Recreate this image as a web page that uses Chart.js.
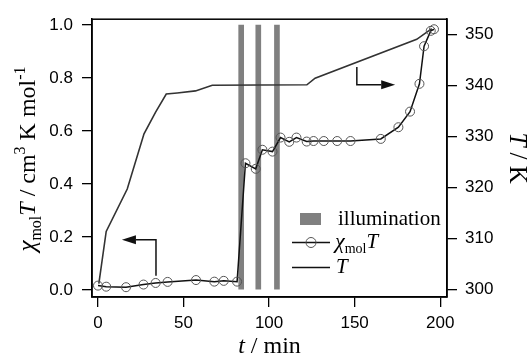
<!DOCTYPE html>
<html>
<head>
<meta charset="utf-8">
<script src="https://cdn.jsdelivr.net/npm/chart.js@4.4.1/dist/chart.umd.min.js"></script>
<style>
  html, body { margin: 0; padding: 0; background: #fff; }
  #wrap { width: 531px; height: 358px; }
</style>
</head>
<body>
<div id="wrap"><canvas id="chart" width="531" height="358"></canvas></div>
<script>
// data //
const illumTimes = [83.7, 93.7, 104.6];

const chiTimes = [0, 4.8, 16.4, 26.6, 33.7, 40.7, 57.3, 68.0, 73.5, 81.3,
  86.2, 92.2, 96.1, 102.0, 106.7, 111.8, 116.0, 122.0, 126.0, 132.0, 139.8, 147.6,
  165.3, 175.6, 182.4, 187.9, 190.6, 194.5, 196.4];
const chiValues = [0.016, 0.012, 0.010, 0.020, 0.026, 0.030, 0.037, 0.031, 0.034, 0.031,
  0.478, 0.457, 0.529, 0.522, 0.575, 0.559, 0.575, 0.560, 0.562, 0.562, 0.562, 0.562,
  0.570, 0.614, 0.673, 0.778, 0.920, 0.978, 0.984];

const tempTimes = [0.5, 4.8, 17.1, 26.9, 33.6, 39.9, 46.3, 57.0, 66.8, 122.1, 126.9, 186.3, 195.1];
const tempValues = [301.2, 311.4, 319.7, 330.5, 334.7, 338.3, 338.5, 338.9, 340.0, 340.1, 341.4, 349.0, 351.1];

// arrows: [t, value] corner points, last one is the tip
const leftArrow = [[33.9, 0.053], [33.9, 0.189], [14.0, 0.189]];
const rightArrow = [[151.3, 343.6], [151.3, 340.1], [173.7, 340.1]];

const SERIF = '"Liberation Serif", "DejaVu Serif", serif';
const SANS = '"Liberation Sans", Arial, sans-serif';

// draw text made of pieces (italic, sub, sup) //
function richWidth(ctx, parts) {
  let w = 0;
  parts.forEach(p => { ctx.font = p.font; w += ctx.measureText(p.text).width; });
  return w;
}
function drawRich(ctx, parts, x, y, angle, align) {
  ctx.save();
  ctx.translate(x, y);
  ctx.rotate(angle);
  let cx = align === 'center' ? -richWidth(ctx, parts) / 2 : 0;
  ctx.fillStyle = '#000';
  ctx.textBaseline = 'alphabetic';
  ctx.textAlign = 'left';
  parts.forEach(p => {
    ctx.font = p.font;
    ctx.fillText(p.text, cx, p.dy || 0);
    cx += ctx.measureText(p.text).width;
  });
  ctx.restore();
}

function drawArrow(ctx, pts, xs, ys) {
  const px = pts.map(p => [xs.getPixelForValue(p[0]), ys.getPixelForValue(p[1])]);
  ctx.save();
  ctx.strokeStyle = '#111';
  ctx.fillStyle = '#111';
  ctx.lineWidth = 1.5;
  const tip = px[px.length - 1];
  const prev = px[px.length - 2];
  const dir = Math.sign(tip[0] - prev[0]);
  const headLen = 14;
  ctx.beginPath();
  ctx.moveTo(px[0][0], px[0][1]);
  ctx.lineTo(px[1][0], px[1][1]);
  ctx.lineTo(tip[0] - dir * headLen, tip[1]);
  ctx.stroke();
  ctx.beginPath();
  ctx.moveTo(tip[0], tip[1]);
  ctx.lineTo(tip[0] - dir * headLen, tip[1] - 4.5);
  ctx.lineTo(tip[0] - dir * headLen, tip[1] + 4.5);
  ctx.closePath();
  ctx.fill();
  ctx.restore();
}

const decorations = {
  id: 'decorations',
  afterDatasetsDraw(chart) {
    const ctx = chart.ctx;
    const a = chart.chartArea;
    const s = chart.scales;

    // frame
    ctx.save();
    ctx.strokeStyle = '#000';
    ctx.lineWidth = 1.5;
    ctx.strokeRect(a.left, a.top, a.right - a.left, a.bottom - a.top);
    ctx.restore();

    drawArrow(ctx, leftArrow, s.x, s.y);
    drawArrow(ctx, rightArrow, s.x, s.y2);

    // legend
    ctx.save();
    ctx.fillStyle = '#808080';
    ctx.fillRect(300, 213, 21, 12);
    ctx.strokeStyle = '#111';
    ctx.lineWidth = 1.5;
    ctx.beginPath();
    ctx.moveTo(292, 242.5); ctx.lineTo(330, 242.5);
    ctx.moveTo(292, 267.5); ctx.lineTo(330, 267.5);
    ctx.stroke();
    ctx.strokeStyle = '#555';
    ctx.lineWidth = 1;
    ctx.beginPath();
    ctx.arc(311, 242.5, 5, 0, Math.PI * 2);
    ctx.stroke();
    ctx.restore();
    drawRich(ctx, [{ text: 'illumination', font: '21px ' + SERIF }], 338, 225, 0, 'left');
    drawRich(ctx, [
      { text: 'χ', font: 'italic 22px ' + SERIF },
      { text: 'mol', font: '14px ' + SERIF, dy: 5 },
      { text: 'T', font: 'italic 21px ' + SERIF }
    ], 335, 248, 0, 'left');
    drawRich(ctx, [{ text: 'T', font: 'italic 21px ' + SERIF }], 336, 273, 0, 'left');

    // axis titles
    drawRich(ctx, [
      { text: 'χ', font: 'italic 25px ' + SERIF },
      { text: 'mol', font: '16px ' + SERIF, dy: 6 },
      { text: 'T', font: 'italic 24px ' + SERIF },
      { text: ' / cm', font: '24px ' + SERIF },
      { text: '3', font: '16px ' + SERIF, dy: -10 },
      { text: ' K mol', font: '24px ' + SERIF },
      { text: '-1', font: '16px ' + SERIF, dy: -10 }
    ], 35, 159, -Math.PI / 2, 'center');

    drawRich(ctx, [
      { text: 't', font: 'italic 24px ' + SERIF },
      { text: ' / min', font: '24px ' + SERIF }
    ], (a.left + a.right) / 2, 353, 0, 'center');

    drawRich(ctx, [
      { text: 'T', font: 'italic 25px ' + SERIF },
      { text: ' / K', font: '25px ' + SERIF }
    ], 510, (a.top + a.bottom) / 2, Math.PI / 2, 'center');
  }
};

const tickFont = { family: SANS, size: 17 };
function axisGrid() {
  return { drawOnChartArea: false, drawTicks: true, tickLength: 10, color: '#000', lineWidth: 1.3, offset: false };
}

const ctx = document.getElementById('chart');
new Chart(ctx, {
  data: {
    datasets: [{
      type: 'bar',
      label: 'illumination',
      data: illumTimes.map(t => ({ x: t, y: [0, 1] })),
      backgroundColor: '#808080',
      barThickness: 5,
      yAxisID: 'y',
      order: 3
    }, {
      type: 'line',
      label: 'T',
      data: tempTimes.map((t, i) => ({ x: t, y: tempValues[i] })),
      borderColor: '#333',
      borderWidth: 1.6,
      pointRadius: 0,
      tension: 0,
      yAxisID: 'y2',
      order: 2
    }, {
      type: 'line',
      label: 'χmolT',
      data: chiTimes.map((t, i) => ({ x: t, y: chiValues[i] })),
      borderColor: '#111',
      borderWidth: 1.5,
      pointRadius: 4.5,
      pointBorderColor: '#555',
      pointBorderWidth: 1,
      pointBackgroundColor: 'rgba(0,0,0,0)',
      tension: 0,
      yAxisID: 'y',
      order: 1
    }]
  },
  options: {
    responsive: false,
    animation: false,
    devicePixelRatio: 1,
    layout: { padding: { top: 13, left: 0, right: 0, bottom: 0 } },
    plugins: { legend: { display: false }, tooltip: { enabled: false } },
    scales: {
      x: {
        type: 'linear',
        position: 'bottom',
        offset: false,
        min: -3.5,
        max: 204,
        grid: axisGrid(),
        border: { color: '#000', width: 1.5 },
        ticks: { stepSize: 50, includeBounds: false, font: tickFont, color: '#000', padding: 6, maxRotation: 0 },
        afterFit(scale) { scale.height = 61; }
      },
      y: {
        type: 'linear',
        position: 'left',
        min: -0.027,
        max: 1.022,
        grid: axisGrid(),
        border: { color: '#000', width: 1.5 },
        ticks: { stepSize: 0.2, includeBounds: false, font: tickFont, color: '#000', padding: 9,
          callback: v => v.toFixed(1) },
        afterFit(scale) { scale.width = 92; }
      },
      y2: {
        type: 'linear',
        position: 'right',
        min: 298.58,
        max: 352.93,
        grid: axisGrid(),
        border: { color: '#000', width: 1.5 },
        ticks: { stepSize: 10, includeBounds: false, font: tickFont, color: '#000', padding: 8 },
        afterFit(scale) { scale.width = 84; }
      }
    }
  },
  plugins: [decorations]
});
</script>
</body>
</html>
